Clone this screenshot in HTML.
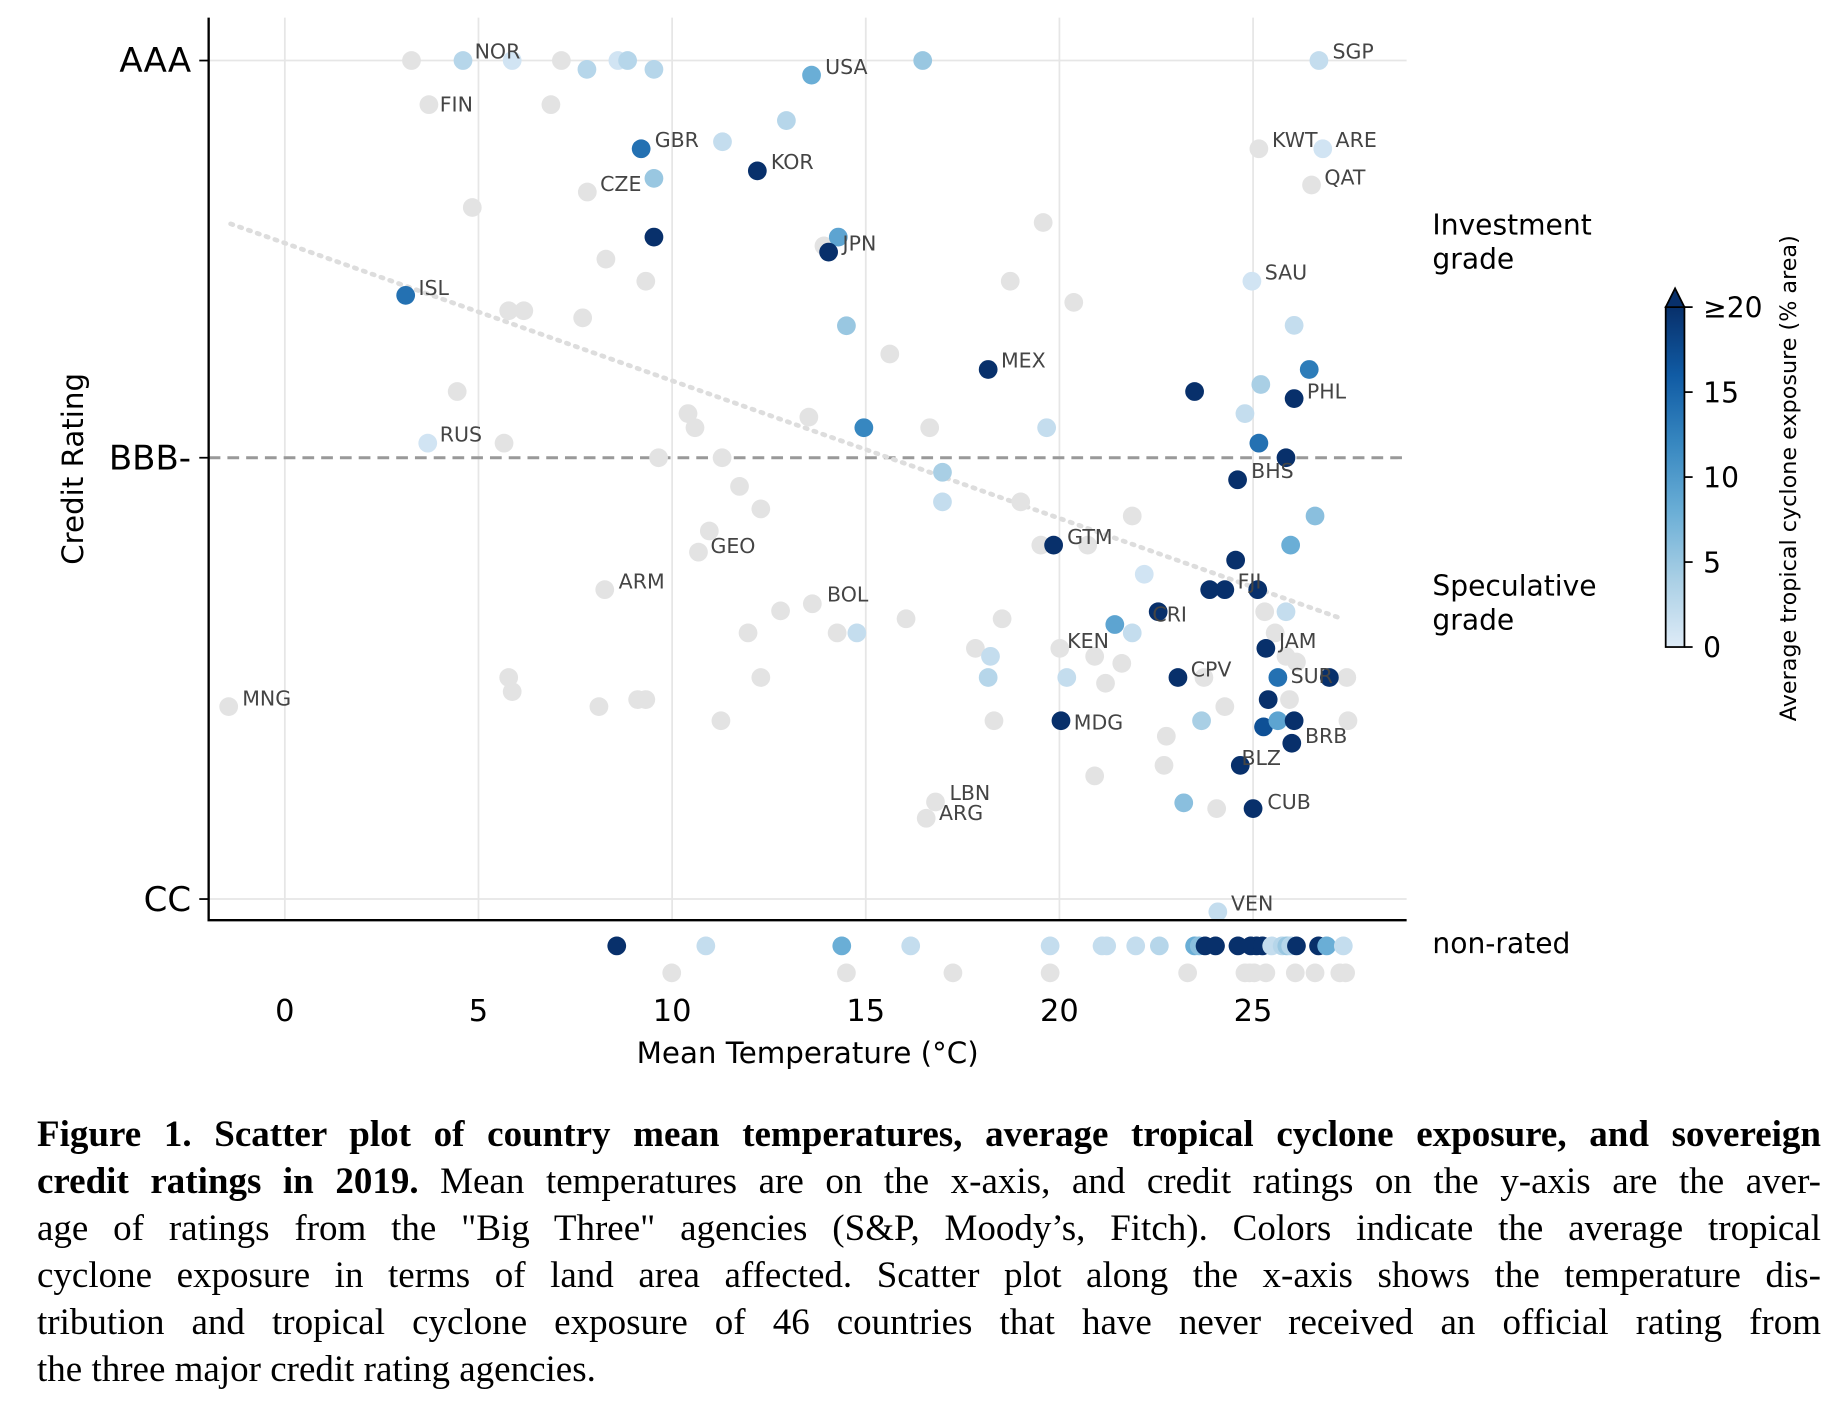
<!DOCTYPE html>
<html><head><meta charset="utf-8">
<style>
html,body{margin:0;padding:0;background:#fff;width:1838px;height:1406px;overflow:hidden;position:relative}
svg{position:absolute;left:0;top:0}
#cap{position:absolute;left:37px;top:1111px;width:1784px;font-family:"Liberation Serif",serif;font-size:37px;line-height:47px;color:#000}
#cap div{text-align:justify;text-align-last:justify;white-space:nowrap}
#cap div.last{text-align-last:left}
</style></head><body>
<svg id="chart" width="1838" height="1406" viewBox="0 0 1568 1199.5" preserveAspectRatio="none" font-family="DejaVu Sans, Liberation Sans, sans-serif"></svg>
<div id="cap">
<div><b>Figure 1. Scatter plot of country mean temperatures, average tropical cyclone exposure, and sovereign</b></div>
<div><b>credit ratings in 2019.</b> Mean temperatures are on the x-axis, and credit ratings on the y-axis are the aver-</div>
<div>age of ratings from the "Big Three" agencies (S&amp;P, Moody’s, Fitch). Colors indicate the average tropical</div>
<div>cyclone exposure in terms of land area affected. Scatter plot along the x-axis shows the temperature dis-</div>
<div>tribution and tropical cyclone exposure of 46 countries that have never received an official rating from</div>
<div class="last">the three major credit rating agencies.</div>
</div>
<script>
// rated countries with exposure: [temp, rating(AAA=20 .. CC=1), exposure]
const ratedTemp = [4.6,5.87,7.8,8.6,8.85,9.53,13.6,16.47,26.7,12.95,11.3,9.2,26.8,12.2,9.53,9.53,14.29,14.04,3.12,24.97,14.5,26.06,18.16,26.45,23.49,25.2,26.06,24.79,14.95,19.67,3.69,25.15,25.85,24.6,16.98,16.98,26.6,25.97,19.85,24.55,22.19,23.88,24.27,25.12,25.85,22.55,21.43,21.88,14.77,25.33,18.22,18.16,20.19,23.06,25.64,26.97,25.39,20.04,23.67,25.27,25.64,26.06,26.0,24.67,23.21,25.0,24.09];
const ratedScore = [20,20,19.8,20,20,19.8,19.67,20,20,18.64,18.16,18.0,18.0,17.5,17.33,16.0,16.0,15.66,14.68,15.0,13.99,14.0,13.0,13.0,12.5,12.66,12.34,12.0,11.68,11.68,11.33,11.33,11.0,10.5,10.67,10.0,9.68,9.02,9.02,8.68,8.36,8.01,8.01,8.01,7.51,7.51,7.22,7.03,7.03,6.68,6.5,6.02,6.02,6.02,6.02,6.02,5.52,5.04,5.04,4.9,5.04,5.04,4.53,4.03,3.18,3.05,0.71];
const ratedExposure = [3,1,3,1,3,3,8,5,2,3,2,14,1,20,5,20,9,20,14,1,5,2,20,13,20,4,20,2,12,2,1,14,20,20,4,2,6,8,20,20,1,20,20,20,2,20,9,2,2,20,2,3,2,20,14,20,20,20,4,17,9,20,20,20,6,20,2];
// rated countries with no exposure (grey)
const greyTemp = [3.27,7.14,3.72,6.87,25.15,26.51,7.81,4.84,19.58,13.92,8.29,9.32,18.73,5.78,6.17,7.69,20.37,15.62,4.45,10.41,10.59,13.53,16.65,5.66,9.65,11.29,11.74,12.29,19.0,21.88,10.96,10.68,19.52,20.73,8.26,13.62,12.8,16.04,18.52,11.96,14.26,17.83,20.01,20.91,21.61,25.3,25.57,26.12,25.85,27.42,5.78,12.29,5.87,9.11,9.32,8.11,-1.45,11.26,18.31,24.27,23.73,21.19,25.94,27.45,22.76,22.7,20.91,16.8,16.56,24.06];
const greyScore = [20,20,19.0,19.0,18.0,17.18,17.02,16.67,16.33,15.8,15.5,15.0,15.0,14.33,14.33,14.17,14.52,13.35,12.5,12.0,11.68,11.92,11.68,11.33,11.0,11.0,10.35,9.84,10.0,9.68,9.34,8.86,9.02,9.02,8.01,7.69,7.53,7.35,7.35,7.03,7.03,6.68,6.68,6.5,6.34,7.51,7.03,6.37,6.5,6.02,6.02,6.02,5.7,5.52,5.52,5.36,5.36,5.04,5.04,5.36,6.02,5.89,5.52,5.04,4.69,4.03,3.79,3.2,2.83,3.05];
// non-rated countries
const nrTemp = [8.57,10.87,14.38,16.16,19.76,21.1,21.22,21.97,22.58,23.49,23.61,23.76,24.03,24.61,24.94,25.09,25.24,25.48,25.75,25.87,25.97,26.12,26.69,26.9,27.33];
const nrExposure = [20,2,8,2,2,2,2,2,3,8,6,20,20,20,20,20,20,2,3,5,3,20,20,8,2];
const nrGreyTemp = [9.99,14.5,17.25,19.76,23.31,24.79,24.91,25.03,25.33,26.09,26.6,27.24,27.39];
// labels
const labelNames = ["NOR","FIN","USA","SGP","GBR","KOR","CZE","KWT","ARE","QAT","JPN","ISL","SAU","MEX","PHL","RUS","BHS","GTM","GEO","FJI","ARM","BOL","CRI","KEN","JAM","CPV","SUR","MNG","MDG","BRB","BLZ","LBN","ARG","CUB","VEN"];
const labelTemp = [4.9,4.0,13.95,27.05,9.55,12.55,8.14,25.49,27.13,26.84,14.4,3.45,25.3,18.49,26.39,4.0,24.95,20.2,10.99,24.6,8.62,14.0,22.4,20.2,25.67,23.39,25.97,-1.1,20.37,26.34,24.7,17.16,16.89,25.37,24.43];
const labelScore = [20.2,19.0,19.85,20.2,18.2,17.7,17.2,18.2,18.2,17.35,15.85,14.85,15.2,13.2,12.5,11.53,10.7,9.2,9.0,8.2,8.2,7.9,7.45,6.85,6.85,6.2,6.05,5.55,5.0,4.7,4.2,3.4,2.95,3.2,0.9];
const xTicks = [0,5,10,15,20,25];
const yTickLabels = ["AAA","BBB-","CC"];
const yTickScores = [20,11,1];
const cbTicks = [0,5,10,15,20];
const cbTickLabels = ["0","5","10","15","≥20"];

const X = t => 243 + t*33.04;
const Y = r => 767 - (r-1)*37.65;
const CBY = v => 552 - v*14.5;
const NS = "http://www.w3.org/2000/svg";
const svg = document.getElementById('chart');
function mk(tag, attrs, parent){const e=document.createElementNS(NS,tag);for(const k in attrs)e.setAttribute(k,attrs[k]);(parent||svg).appendChild(e);return e;}
const stops=[[0,[222,235,247]],[4,[169,207,229]],[8,[106,174,214]],[12,[55,135,192]],[16,[16,91,164]],[20,[8,48,107]]];
function col(v){v=Math.max(0,Math.min(20,v));for(let i=0;i<stops.length-1;i++){const a=stops[i],b=stops[i+1];if(v<=b[0]){const f=(v-a[0])/(b[0]-a[0]);return 'rgb('+a[1].map((c,j)=>Math.round(c+(b[1][j]-c)*f)).join(',')+')';}}return 'rgb(8,48,107)';}

// gridlines
const grid=mk('g',{});


xTicks.forEach(t=>{const l=mk('line',{x1:X(t),x2:X(t),y1:15,y2:785,stroke:'#e6e6e6','stroke-width':1.5},grid);});
[20,1].forEach(r=>{const l=mk('line',{x1:178,x2:1200,y1:Y(r),y2:Y(r),stroke:'#e6e6e6','stroke-width':1.5},grid);});
const bbb=mk('line',{x1:178,x2:1200,y1:Y(11),y2:Y(11),stroke:'#999','stroke-width':2.5,'stroke-dasharray':'10,6'});


const trend=mk('line',{x1:X(-1.4),y1:Y(16.3),x2:X(27.3),y2:Y(7.35),stroke:'#ddd','stroke-width':4,'stroke-dasharray':'2,6','stroke-linecap':'round'});



// points
function dot(cx,cy,fill,name){const c=mk('circle',{cx,cy,r:8,fill});}
greyTemp.forEach((t,i)=>dot(X(t),Y(greyScore[i]),'#e3e3e3','grey-country-point'));
nrGreyTemp.forEach(t=>dot(X(t),830,'#e3e3e3','nonrated-grey-point'));
ratedTemp.forEach((t,i)=>dot(X(t),Y(ratedScore[i]),col(ratedExposure[i]),'country-point'));
nrTemp.forEach((t,i)=>dot(X(t),807,col(nrExposure[i]),'nonrated-point'));

// labels
labelNames.forEach((n,i)=>{const tx=mk('text',{x:X(labelTemp[i]),y:Y(labelScore[i])+6,'font-size':17.5,fill:'#444'});tx.textContent=n;});

// axes
const ax=mk('path',{d:'M178,15 V785 H1200',fill:'none',stroke:'#000','stroke-width':2});


yTickScores.forEach((r,i)=>{mk('line',{x1:170,x2:178,y1:Y(r),y2:Y(r),stroke:'#000','stroke-width':1.5});const t=mk('text',{x:163,y:Y(r)+10,'font-size':29,'text-anchor':'end',fill:'#000'});t.textContent=yTickLabels[i];});
xTicks.forEach(v=>{const t=mk('text',{x:X(v),y:871,'font-size':26,'text-anchor':'middle',fill:'#000'});t.textContent=v;});
let t=mk('text',{x:689,y:907,'font-size':25,'text-anchor':'middle'});t.textContent='Mean Temperature (°C)';


t=mk('text',{x:0,y:0,'font-size':25,'text-anchor':'middle',transform:'translate(71,400) rotate(-90)'});t.textContent='Credit Rating';


[['Investment',200],['grade',229],['Speculative',508],['grade',537],['non-rated',813]].forEach(a=>{const e=mk('text',{x:1222,y:a[1],'font-size':24});e.textContent=a[0];});

// colorbar
const defs=mk('defs',{});const g=mk('linearGradient',{id:'cbg',x1:0,y1:1,x2:0,y2:0},defs);
[0,4,8,12,16,20].forEach(v=>mk('stop',{offset:v/20,'stop-color':col(v)},g));
const cb=mk('rect',{x:1421,y:CBY(20),width:16,height:CBY(0)-CBY(20),fill:'url(#cbg)',stroke:'#000','stroke-width':1.5});


const ar=mk('path',{d:`M1421,${CBY(20)} L1429,${CBY(20)-16} L1437,${CBY(20)} Z`,fill:col(20),stroke:'#000','stroke-width':1.5});


cbTicks.forEach((v,i)=>{mk('line',{x1:1437,x2:1444,y1:CBY(v),y2:CBY(v),stroke:'#000','stroke-width':1.5});const e=mk('text',{x:1453,y:CBY(v)+9,'font-size':24});e.textContent=cbTickLabels[i];});
t=mk('text',{x:0,y:0,'font-size':19,'text-anchor':'middle',transform:'translate(1532,408) rotate(-90)'});t.textContent='Average tropical cyclone exposure (% area)';


</script>
</body></html>
